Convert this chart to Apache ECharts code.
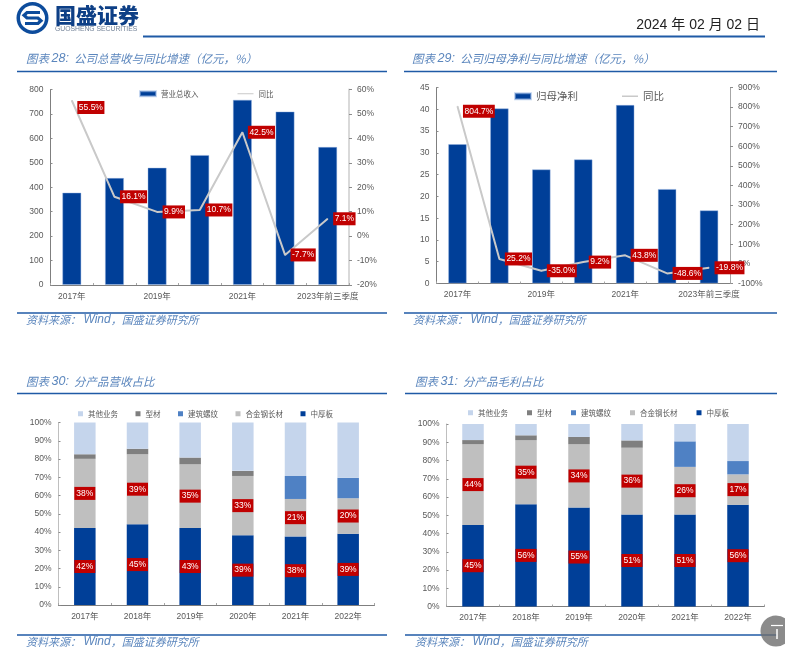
<!DOCTYPE html>
<html><head><meta charset="utf-8">
<style>html,body{margin:0;padding:0;background:#fff}#c{width:785px;height:654px}</style>
<script src="https://cdn.jsdelivr.net/npm/echarts@6/dist/echarts.min.js"></script>
</head><body><div id="c"></div>
<script>
// ---- data ----
const yearsA = ['2017年','2018年','2019年','2020年','2021年','2022年','2023年前三季度'];
const yearsB = ['2017年','2018年','2019年','2020年','2021年','2022年'];
const revenue = [378,438,480,532,758,710,565];
const revenueYoy = [55.5,16.1,9.9,10.7,42.5,-7.7,7.1];
const profit = [32,40.2,26.2,28.5,41,21.7,16.8];
const profitYoy = [804.7,25.2,-35.0,9.2,43.8,-48.6,-19.8];
const productNames = ['其他业务','型材','建筑螺纹','合金钢长材','中厚板'];
const revPlate = [42.2,44.3,42.2,38.2,37.6,39.0];
const revAlloy = [37.9,38.3,34.9,32.5,20.5,19.5];
const revRebar = [0,0,0,0,12.6,11.2];
const revSection = [2.5,3.0,3.7,2.8,0,0];
const revOther = [17.4,14.4,19.2,26.5,29.3,30.3];
const revPlateLabels = ['42%','45%','43%','39%','38%','39%'];
const revAlloyLabels = ['38%','39%','35%','33%','21%','20%'];
const gmPlate = [44.7,56.0,54.2,50.4,50.4,55.7];
const gmAlloy = [44.2,35.2,34.7,36.6,26.1,16.7];
const gmRebar = [0,0,0,0,14.0,7.3];
const gmSection = [2.3,2.6,4.0,4.0,0,0];
const gmOther = [8.8,6.2,7.1,9.0,9.5,20.3];
const gmPlateLabels = ['45%','56%','55%','51%','51%','56%'];
const gmAlloyLabels = ['44%','35%','34%','36%','26%','17%'];

// ---- style ----
const BLUE='#003f98', RED='#c00000', TXT='#595959', LINE='#c9c9c9', RULE='#1f5aa6', TITLE='#5b86bd';
const FONT='"Liberation Sans","Noto Sans CJK SC",sans-serif';
const CJK='"Noto Sans CJK SC",sans-serif';
const COL={'其他业务':'#c5d5ec','型材':'#7f7f7f','建筑螺纹':'#4f81c4','合金钢长材':'#bfbfbf','中厚板':BLUE};
const LINE_ICON='path://M0,0H0.01V0.01H0ZM0,38H100V62H0ZM99.99,99.99H100V100H99.99Z';

const redLabel={show:true,color:'#fff',backgroundColor:RED,fontFamily:FONT,fontSize:8.5};

const grids=[
 {left:50.5,top:89.5,width:298.5,height:195.5},
 {left:436.5,top:87.5,width:293.5,height:196},
 {left:58.5,top:422.5,width:316,height:182.5},
 {left:446.5,top:424,width:318,height:182.5}
];

const xAxis=[],yAxis=[],series=[],legend=[];
function xa(g,data,interval,fs){
  xAxis.push({type:'category',gridIndex:g,data,
    axisLine:{lineStyle:{color:'#7f7f7f',width:1}},
    axisTick:{show:true,inside:true,length:2,alignWithLabel:false,interval:0,lineStyle:{color:'#a6a6a6'}},
    axisLabel:{interval,color:TXT,fontSize:fs,fontFamily:FONT,margin:7,hideOverlap:false},splitLine:{show:false}});
}
function ya(g,min,max,interval,fmt,pos,col,w){
  yAxis.push({type:'value',gridIndex:g,min,max,interval,position:pos,
    axisLine:{show:true,onZero:false,lineStyle:{color:col,width:w}},
    axisTick:{show:true,inside:pos==='left',length:pos==='left'?2:3,lineStyle:{color:'#8c8c8c'}},
    axisLabel:{color:TXT,fontSize:8.5,fontFamily:FONT,margin:pos==='left'?7:8,formatter:fmt},
    splitLine:{show:false}});
}
function combo(g,barName,bars,yoy,firstOffset,barW,yi){
  series.push({name:barName,type:'bar',xAxisIndex:g,yAxisIndex:yi,data:bars,barWidth:barW,
    itemStyle:{color:BLUE,borderColor:'rgba(150,180,225,.55)',borderWidth:0.8},z:2,silent:true});
  series.push({name:'同比',type:'line',xAxisIndex:g,yAxisIndex:yi+1,symbol:'circle',symbolSize:1,showSymbol:true,showAllSymbol:true,
    lineStyle:{color:LINE,width:2},itemStyle:{color:LINE},z:5,silent:true,
    data:yoy.map((v,i)=>i===0?{value:v,label:{offset:[0,firstOffset]}}:v),
    label:Object.assign({},redLabel,{position:'right',distance:5,padding:[2.5,1.5,2,1.5],
      formatter:p=>yoy[p.dataIndex].toFixed(1)+'%'})});
}
function stack(g,yi,plate,alloy,rebar,section,other,plateL,alloyL){
  const rows=[['中厚板',plate,plateL],['合金钢长材',alloy,alloyL],['建筑螺纹',rebar],['型材',section],['其他业务',other]];
  rows.forEach(([name,vals,labels])=>{
    series.push({name,type:'bar',stack:'s'+g,xAxisIndex:g,yAxisIndex:yi,data:vals,barWidth:21.5,silent:true,
      itemStyle:{color:COL[name]},
      label:labels?Object.assign({},redLabel,{position:'inside',padding:[2.5,2,2,2],
        formatter:p=>labels[p.dataIndex]}):{show:false}});
  });
}
// chart 28
xa(0,yearsA,1,8.5);
ya(0,0,800,100,'{value}','left','#7f7f7f',1);
ya(0,-20,60,10,'{value}%','right','#d9d9d9',2);
combo(0,'营业总收入',revenue,revenueYoy,7,19,0);
legend.push({left:139,top:90,itemWidth:16,itemHeight:5,itemGap:39,padding:0,selectedMode:false,symbolKeepAspect:false,
  data:[{name:'营业总收入',icon:'rect'},{name:'同比',icon:LINE_ICON}],textStyle:{fontSize:7.5,color:TXT,fontFamily:CJK}});
// chart 29
xa(1,yearsA,1,8.5);
ya(1,0,45,5,'{value}','left','#7f7f7f',1);
ya(1,-100,900,100,'{value}%','right','#a6a6a6',1);
combo(1,'归母净利',profit,profitYoy,5,18.5,2);
// chart 30
xa(2,yearsB,0,8.5);
ya(2,0,100,10,'{value}%','left','#bfbfbf',1);
stack(2,4,revPlate,revAlloy,revRebar,revSection,revOther,revPlateLabels,revAlloyLabels);
// chart 31
xa(3,yearsB,0,8.5);
ya(3,0,100,10,'{value}%','left','#bfbfbf',1);
stack(3,5,gmPlate,gmAlloy,gmRebar,gmSection,gmOther,gmPlateLabels,gmAlloyLabels);

legend.push({left:514,top:91,itemWidth:16,itemHeight:6,itemGap:44,padding:0,selectedMode:false,symbolKeepAspect:false,
  data:[{name:'归母净利',icon:'rect'},{name:'同比',icon:LINE_ICON}],textStyle:{fontSize:10.5,color:TXT,fontFamily:CJK}});
legend.push({left:78,top:410,itemWidth:5,itemHeight:5,itemGap:17.5,padding:0,selectedMode:false,
  data:productNames.map(name=>({name,icon:'rect'})),textStyle:{fontSize:7.5,color:TXT,fontFamily:CJK}});
legend.push({left:468,top:409,itemWidth:5,itemHeight:5,itemGap:19,padding:0,selectedMode:false,
  data:productNames.map(name=>({name,icon:'rect'})),textStyle:{fontSize:7.5,color:TXT,fontFamily:CJK}});

// ---- page furniture ----
function rule(x1,x2,y,w){return {type:'line',silent:true,shape:{x1,y1:y,x2,y2:y},style:{stroke:RULE,lineWidth:w||1.5},z:1};}
function txt(x,y,text,font,fill,align,z){return {type:'text',silent:true,x,y,z:z||1,style:{text,font,fill,align:align||'left',verticalAlign:'middle'}};}
function head(x,y,no,name){
  return {type:'text',silent:true,x,y,style:{text:`{a|图表 }{b|${no}:}{a|  ${name}}`,verticalAlign:'middle',fill:TITLE,
    rich:{a:{font:`italic 11.5px ${CJK}`,fill:TITLE},b:{font:`italic 12.5px ${FONT}`,fill:TITLE}}}};
}
function src(x,y){
  return {type:'text',silent:true,x,y,style:{text:'{a|资料来源： }{b|Wind}{a|，国盛证券研究所}',verticalAlign:'middle',fill:TITLE,
    rich:{a:{font:`italic 11px ${CJK}`,fill:TITLE},b:{font:`italic 12px ${FONT}`,fill:TITLE}}}};
}
const graphic=[
  {type:'ring',silent:true,shape:{cx:32.5,cy:18,r:16,r0:12.5},style:{fill:'#0d4c9c'}},
  {type:'polyline',silent:true,shape:{points:[[40,12.5],[27,12.5],[24,15.2],[27,18],[38,18],[41,20.8],[38,23.5],[25,23.5]]},
    style:{fill:'none',stroke:'#0d4c9c',lineWidth:3.2}},
  txt(55,15,'国盛证券',`900 21px ${CJK}`,'#0d3f86'),
  txt(55,29,'GUOSHENG SECURITIES',`6.8px ${FONT}`,'#6f7f95'),
  txt(760,25,'2024 年 02 月 02 日',`14px ${FONT}`,'#222','right'),
  rule(143,765,36.5,2),
  head(26,58.5,'28','公司总营收与同比增速（亿元，%）'),
  rule(17,387,71.5),rule(17,387,313),src(26,320),
  head(412,58.5,'29','公司归母净利与同比增速（亿元，%）'),
  rule(404,777,71.5),rule(404,777,313),src(413,320),
  head(26,381.5,'30','分产品营收占比'),
  rule(17,387,393.5),rule(17,387,635),src(26,642),
  head(415,381.5,'31','分产品毛利占比'),
  rule(405,777,393.5),rule(405,777,635),src(415,642),
  {type:'circle',silent:true,z:20,shape:{cx:776,cy:631,r:15.5},style:{fill:'rgba(110,110,110,.8)'}},
  {type:'line',silent:true,z:21,shape:{x1:771,y1:625.5,x2:783,y2:625.5},style:{stroke:'#fff',lineWidth:1.2}},
  {type:'line',silent:true,z:21,shape:{x1:777,y1:629,x2:777,y2:639},style:{stroke:'#fff',lineWidth:1.5}},
];

echarts.init(document.getElementById('c'),null,{renderer:'canvas'}).setOption({
  animation:false,backgroundColor:'#fff',grid:grids,xAxis,yAxis,series,legend,graphic
});
</script></body></html>
